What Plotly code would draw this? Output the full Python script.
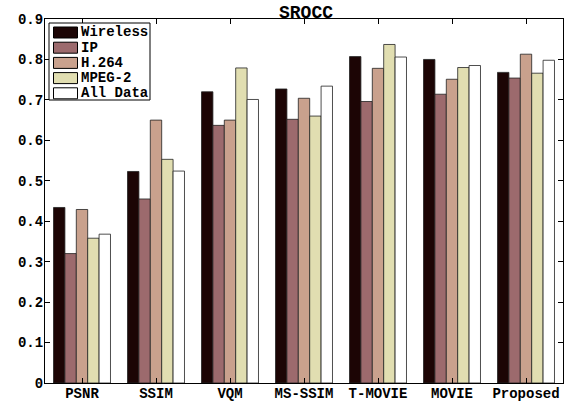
import plotly.graph_objects as go

categories = ["PSNR", "SSIM", "VQM", "MS-SSIM", "T-MOVIE", "MOVIE", "Proposed"]
series_names = ["Wireless", "IP", "H.264", "MPEG-2", "All Data"]
wireless = [0.434, 0.523, 0.720, 0.727, 0.807, 0.800, 0.768]
ip = [0.320, 0.455, 0.637, 0.652, 0.696, 0.714, 0.754]
h264 = [0.429, 0.650, 0.650, 0.704, 0.778, 0.751, 0.813]
mpeg2 = [0.358, 0.553, 0.779, 0.660, 0.837, 0.780, 0.766]
alldata = [0.368, 0.524, 0.701, 0.734, 0.806, 0.785, 0.798]
y_ticks = [0, 0.1, 0.2, 0.3, 0.4, 0.5, 0.6, 0.7, 0.8, 0.9]
y_tick_labels = ["0", "0.1", "0.2", "0.3", "0.4", "0.5", "0.6", "0.7", "0.8", "0.9"]

colors = ["#1c0505", "#9c6a6d", "#c9a18d", "#e1deb1", "#ffffff"]
values = [wireless, ip, h264, mpeg2, alldata]

FONT = "Liberation Mono"
W, H = 565, 402
L, R, T, B = 45, 2, 19, 19


def px(x):
    return (x - L) / (W - L - R)


def py(y):
    return (H - B - y) / (H - T - B)


fig = go.Figure()
x_pos = list(range(1, len(categories) + 1))
for name, vals, col in zip(series_names, values, colors):
    fig.add_trace(go.Bar(
        x=x_pos, y=vals, name=name,
        marker=dict(color=col, line=dict(color="#222222", width=0.8)),
        showlegend=False,
    ))

# legend box drawn manually (MATLAB style)
shapes = [dict(type="rect", xref="paper", yref="paper",
               x0=px(49), x1=px(150), y0=py(100), y1=py(23),
               line=dict(color="black", width=1), fillcolor="white", layer="above")]
annotations = []
for i, (name, col) in enumerate(zip(series_names, colors)):
    cy = 32.5 + 15.2 * i
    shapes.append(dict(type="rect", xref="paper", yref="paper",
                       x0=px(53.5), x1=px(77.5), y0=py(cy + 5.5), y1=py(cy - 5.5),
                       line=dict(color="black", width=1), fillcolor=col, layer="above"))
    annotations.append(dict(xref="paper", yref="paper", x=px(79), y=py(cy),
                            xanchor="left", yanchor="middle", showarrow=False,
                            text="<b>%s</b>" % name,
                            font=dict(family=FONT, size=14, color="black")))

fig.update_layout(
    width=W, height=H,
    margin=dict(l=L, r=R, t=T, b=B, autoexpand=False),
    paper_bgcolor="white", plot_bgcolor="white",
    barmode="group", bargap=0.23, bargroupgap=0,
    font=dict(family=FONT, size=14, color="black"),
    title=dict(text="<b>SROCC</b>", x=306 / W, xanchor="center", y=1 - 11.5 / H, yanchor="middle",
               font=dict(family=FONT, size=18, color="black")),
    shapes=shapes, annotations=annotations,
    showlegend=False,
)
fig.update_xaxes(
    range=[0.5, 7.5], tickmode="array", tickvals=x_pos,
    ticktext=["<b>%s</b>" % c for c in categories],
    ticks="inside", ticklen=5, tickcolor="black",
    showline=True, linecolor="black", linewidth=1, mirror="ticks",
    showgrid=False, zeroline=False, ticklabelstandoff=-3,
    tickfont=dict(family=FONT, size=14, color="black"),
)
fig.update_yaxes(
    range=[0, 0.9], tickmode="array", tickvals=y_ticks,
    ticktext=["<b>%s</b>" % t for t in y_tick_labels],
    ticks="inside", ticklen=5, tickcolor="black",
    showline=True, linecolor="black", linewidth=1, mirror="ticks",
    showgrid=False, zeroline=False, ticklabelstandoff=-2,
    tickfont=dict(family=FONT, size=14, color="black"),
)

fig.write_html("out.html", config={"displayModeBar": False},
               post_script="document.body.style.margin='0';document.body.style.padding='0';")
